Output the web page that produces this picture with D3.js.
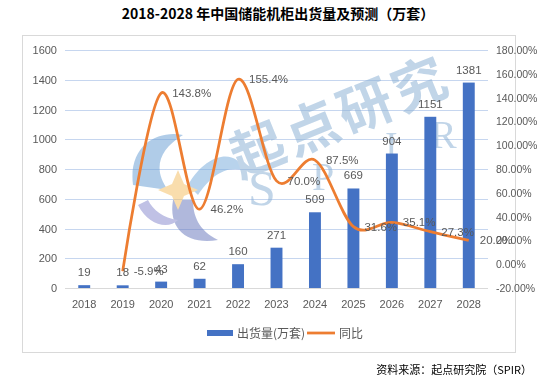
<!DOCTYPE html>
<html><head><meta charset="utf-8">
<script src="https://cdn.jsdelivr.net/npm/d3@7"></script>
<style>html,body{margin:0;padding:0;background:#fff;}svg{display:block;}</style>
</head><body>
<script>
const years = ["2018","2019","2020","2021","2022","2023","2024","2025","2026","2027","2028"];
const shipments = [19,18,43,62,160,271,509,669,904,1151,1381];
const growthYears = ["2019","2020","2021","2022","2023","2024","2025","2026","2027","2028"];
const growth = [-5.9,143.8,46.2,155.4,70.0,87.5,31.6,35.1,27.3,20.0];
const leftTicks = [0,200,400,600,800,1000,1200,1400,1600];
const rightTicks = [-20,0,20,40,60,80,100,120,140,160,180];
const titleText = "2018-2028 年中国储能机柜出货量及预测（万套）";
const legendLabels = ["出货量(万套)","同比"];
const sourceText = "资料来源：起点研究院（SPIR）";

const W=557,H=381;
const svg=d3.select("body").append("svg").attr("width",W).attr("height",H);
const font="'Liberation Sans', Arial, sans-serif";
const cjk="'Noto Sans CJK SC', sans-serif";
const gray="#595959";

svg.append("rect").attr("width",W).attr("height",H).attr("fill","#fff");
svg.append("text").attr("x",278).attr("y",19).attr("text-anchor","middle")
  .attr("font-family",cjk).attr("font-weight","bold").attr("font-size",14).attr("fill","#000").text(titleText);
svg.append("rect").attr("x",22.5).attr("y",35.5).attr("width",493).attr("height",317)
  .attr("fill","none").attr("stroke","#d9d9d9");

const x=d3.scaleBand().domain(years).range([65,488]).paddingInner(0.69).paddingOuter(0.345);
const yL=d3.scaleLinear().domain([0,1600]).range([288,50]);
const yR=d3.scaleLinear().domain([-20,180]).range([288,50]);
const cx=d=>x(d)+x.bandwidth()/2;

// gridlines
svg.append("g").selectAll("line").data(leftTicks.filter(t=>t>0)).join("line")
  .attr("x1",65).attr("x2",488).attr("y1",d=>Math.round(yL(d))+0.5).attr("y2",d=>Math.round(yL(d))+0.5)
  .attr("stroke","#c6d6ef").attr("stroke-width",1);

// watermark
const wm=svg.append("g").attr("opacity",0.55);
const logo=wm.append("g").attr("transform","translate(178,190)");
logo.append("path").attr("d","M-45,-5 C-50,-45 -20,-60 5,-55 C-20,-40 -25,-20 -10,0 Z").attr("fill","#6fa3d6");
logo.append("path").attr("d","M10,-5 C30,-40 60,-40 65,-20 C45,-25 30,-10 20,5 Z").attr("fill","#7fb0dd");
logo.append("path").attr("d","M-5,10 C-10,40 10,55 40,50 C20,40 15,25 15,10 Z").attr("fill","#6f7fc0");
logo.append("path").attr("d","M-40,15 C-30,35 -10,40 0,30 C-15,28 -25,20 -30,10 Z").attr("fill","#8c8fd0");
logo.append("path").attr("d","M0,-20 L6,-6 L20,0 L6,6 L0,20 L-6,6 L-20,0 L-6,-6 Z").attr("fill","#f5c26b");
const wt=wm.append("g").attr("transform","translate(240,178) rotate(-22)");
wt.append("text").attr("x",0).attr("y",0).attr("font-family",cjk).attr("font-weight","bold")
  .attr("font-size",54).attr("fill","#8fb3d6").attr("letter-spacing",4).text("起点研究");
wm.append("text").attr("x",248).attr("y",205).attr("font-family","'Liberation Serif', serif").attr("font-size",50).attr("fill","#8fb3d6").text("S");
wm.append("text").attr("x",312).attr("y",190).attr("font-family","'Liberation Serif', serif").attr("font-size",40).attr("fill","#8fb3d6").text("P");
wm.append("text").attr("x",385).attr("y",158).attr("font-family","'Liberation Serif', serif").attr("font-size",38).attr("fill","#8fb3d6").text("I");
wm.append("text").attr("x",430).attr("y",148).attr("font-family","'Liberation Serif', serif").attr("font-size",40).attr("fill","#8fb3d6").text("R");

// x axis line
svg.append("line").attr("x1",65).attr("x2",488).attr("y1",288.5).attr("y2",288.5).attr("stroke","#d9d9d9");

// bars
svg.append("g").selectAll("rect").data(years).join("rect")
  .attr("x",d=>x(d)).attr("width",x.bandwidth())
  .attr("y",(d,i)=>yL(shipments[i])).attr("height",(d,i)=>yL(0)-yL(shipments[i]))
  .attr("fill","#4472c4");

// line
const line=d3.line().x((d,i)=>cx(growthYears[i])).y(d=>yR(d)).curve(d3.curveCardinal.tension(0));
svg.append("path").datum(growth).attr("d",line).attr("fill","none").attr("stroke","#ed7d31")
  .attr("stroke-width",2.75).attr("stroke-linejoin","round");

// bar labels
svg.append("g").selectAll("text").data(years).join("text")
  .attr("x",d=>cx(d)).attr("y",(d,i)=>yL(shipments[i])-9).attr("text-anchor","middle")
  .attr("font-family",font).attr("font-size",11.5).attr("fill",gray).text((d,i)=>shipments[i]);

// line labels
svg.append("g").selectAll("text").data(growth).join("text")
  .attr("x",(d,i)=>cx(growthYears[i])+11).attr("y",d=>yR(d)+4)
  .attr("font-family",font).attr("font-size",11.5).attr("fill",gray).text(d=>d.toFixed(1)+"%");

// left axis labels
svg.append("g").selectAll("text").data(leftTicks).join("text")
  .attr("x",57).attr("y",d=>yL(d)+4).attr("text-anchor","end")
  .attr("font-family",font).attr("font-size",11).attr("fill",gray).text(d=>d);

// right axis labels
svg.append("g").selectAll("text").data(rightTicks).join("text")
  .attr("x",496).attr("y",d=>yR(d)+4)
  .attr("font-family",font).attr("font-size",10.5).attr("fill",gray).text(d=>d.toFixed(2)+"%");

// x labels
svg.append("g").selectAll("text").data(years).join("text")
  .attr("x",d=>cx(d)).attr("y",308).attr("text-anchor","middle")
  .attr("font-family",font).attr("font-size",11).attr("fill",gray).text(d=>d);

// legend
svg.append("rect").attr("x",207).attr("y",330).attr("width",26).attr("height",6).attr("fill","#4472c4");
svg.append("text").attr("x",237).attr("y",337.5).attr("font-family",cjk).attr("font-size",12).attr("fill",gray).text(legendLabels[0]);
svg.append("line").attr("x1",307).attr("x2",335).attr("y1",333).attr("y2",333).attr("stroke","#ed7d31").attr("stroke-width",2.75);
svg.append("text").attr("x",339).attr("y",337.5).attr("font-family",cjk).attr("font-size",12).attr("fill",gray).text(legendLabels[1]);

// source
svg.append("text").attr("x",532).attr("y",374).attr("text-anchor","end")
  .attr("font-family",cjk).attr("font-size",11).attr("fill","#000").text(sourceText);
</script>
</body></html>
